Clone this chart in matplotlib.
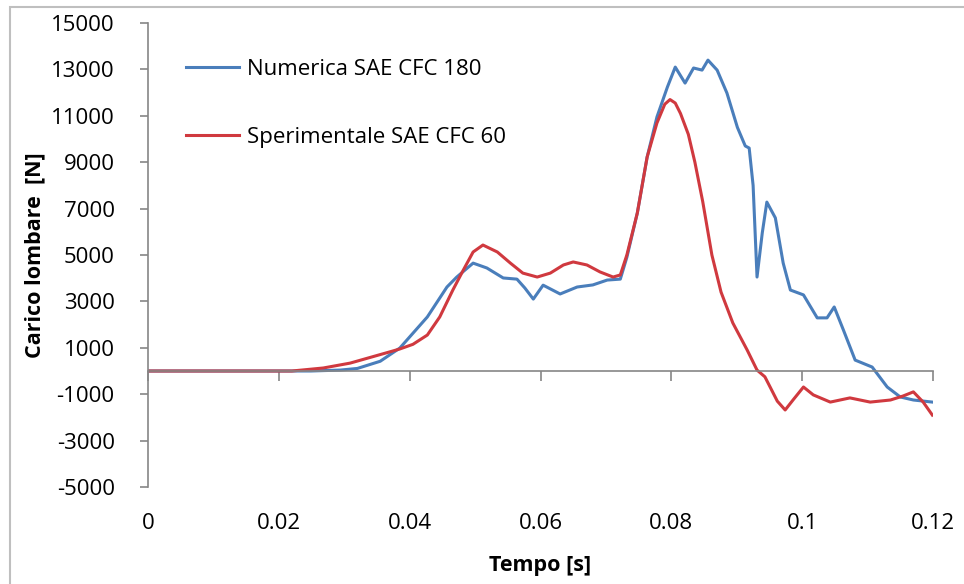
import matplotlib
matplotlib.use("Agg")
import matplotlib.pyplot as plt
from matplotlib.patches import Rectangle

# --- data (tempo [s], carico [N]) ---
t_num = [0.0, 0.0249, 0.0294, 0.0320, 0.0355, 0.0385, 0.0427, 0.0457, 0.0472, 0.0497,
         0.0518, 0.0543, 0.0564, 0.0576, 0.0589, 0.0604, 0.0630, 0.0656, 0.0680, 0.0702,
         0.0722, 0.0732, 0.0748, 0.0763, 0.0778, 0.0794, 0.0806, 0.0821, 0.0834, 0.0847,
         0.0856, 0.0870, 0.0885, 0.0901, 0.0913, 0.0919, 0.0925, 0.0931, 0.0939, 0.0946,
         0.0959, 0.0971, 0.0982, 0.1002, 0.1023, 0.1038, 0.1049, 0.1063, 0.1081, 0.1107,
         0.1130, 0.1150, 0.1170, 0.1199]
f_num = [0, 0, 40, 110, 420, 990, 2330, 3620, 4050, 4650,
         4440, 4010, 3960, 3580, 3100, 3700, 3320, 3620, 3710, 3920,
         3960, 4900, 6810, 9220, 10950, 12240, 13100, 12410, 13060, 12970,
         13400, 12970, 11980, 10500, 9700, 9610, 8000, 4050, 5950, 7280,
         6600, 4650, 3490, 3280, 2290, 2290, 2760, 1770, 470, 170,
         -690, -1120, -1250, -1340]

t_sper = [0.0, 0.0220, 0.0268, 0.0309, 0.0369, 0.0385, 0.0405, 0.0427, 0.0446, 0.0466,
          0.0482, 0.0497, 0.0512, 0.0534, 0.0554, 0.0573, 0.0595, 0.0615, 0.0635, 0.0650,
          0.0671, 0.0691, 0.0711, 0.0722, 0.0732, 0.0748, 0.0763, 0.0778, 0.0790, 0.0798,
          0.0806, 0.0814, 0.0826, 0.0836, 0.0848, 0.0862, 0.0876, 0.0894, 0.0916, 0.0931,
          0.0943, 0.0951, 0.0962, 0.0974, 0.0986, 0.1002, 0.1017, 0.1043, 0.1073, 0.1104,
          0.1135, 0.1154, 0.1170, 0.1185, 0.1199]
f_sper = [0, 0, 130, 340, 820, 950, 1150, 1550, 2330, 3490,
          4350, 5130, 5430, 5130, 4650, 4220, 4050, 4220, 4570, 4700,
          4570, 4270, 4050, 4140, 5000, 6810, 9220, 10690, 11500, 11700,
          11550, 11100, 10200, 9000, 7300, 5000, 3400, 2070, 900, 40,
          -250, -690, -1300, -1680, -1250, -690, -1030, -1340, -1160, -1340,
          -1250, -1080, -900, -1340, -1900]

labels = ["Numerica SAE CFC 180", "Sperimentale SAE CFC 60"]
x_ticks = [0, 0.02, 0.04, 0.06, 0.08, 0.1, 0.12]
x_ticklabels = ["0", "0.02", "0.04", "0.06", "0.08", "0.1", "0.12"]
y_ticks = list(range(-5000, 15001, 2000))

BLUE = "#4A7EBB"
RED = "#D0393F"
GREY = "#868686"

plt.rcParams["font.family"] = ["Open Sans", "DejaVu Sans"]
plt.rcParams["axes.unicode_minus"] = False

fig = plt.figure(figsize=(9.64, 5.84), dpi=100)
ax = fig.add_axes([148 / 964, 1 - 487 / 584, (933 - 148) / 964, (487 - 23) / 584])

ax.plot(t_num, f_num, color=BLUE, lw=2.2, label=labels[0], solid_joinstyle="round")
ax.plot(t_sper, f_sper, color=RED, lw=2.2, label=labels[1], solid_joinstyle="round")

ax.set_xlim(0, 0.12)
ax.set_ylim(-5000, 15000)

for side in ("top", "right"):
    ax.spines[side].set_visible(False)
ax.spines["bottom"].set_position(("data", 0))
for side in ("bottom", "left"):
    ax.spines[side].set_color(GREY)
    ax.spines[side].set_linewidth(1.2)

ax.set_yticks(y_ticks)
ax.tick_params(axis="y", direction="out", length=6, width=1.2, color=GREY,
               labelsize=16, pad=18)
ax.set_xticks(x_ticks)
ax.tick_params(axis="x", direction="out", length=7, width=1.2, color=GREY,
               labelbottom=False)

# x tick labels sit at the bottom of the plot, not on the zero line
sec = ax.secondary_xaxis(0)
sec.spines["bottom"].set_visible(False)
sec.set_xticks(x_ticks, x_ticklabels)
sec.tick_params(length=0, labelsize=16, pad=19)
sec.set_xlabel("Tempo [s]", fontsize=15.5, fontweight="bold", labelpad=15)

ax.set_ylabel("Carico lombare  [N]", fontsize=15.5, fontweight="bold", labelpad=4)

ax.legend(loc="upper left", bbox_to_anchor=(186 / 964, 1 - 59 / 584),
          bbox_transform=fig.transFigure, frameon=False, fontsize=16,
          handlelength=2.4, handletextpad=0.35, labelspacing=2.1,
          borderpad=0, borderaxespad=0)

fig.add_artist(Rectangle((10 / 964, -0.1), 1.2, 1.1 - 7 / 584,
                         transform=fig.transFigure, fill=False,
                         edgecolor="#BFBFBF", lw=1.5))

fig.savefig("out.png", dpi=100)
